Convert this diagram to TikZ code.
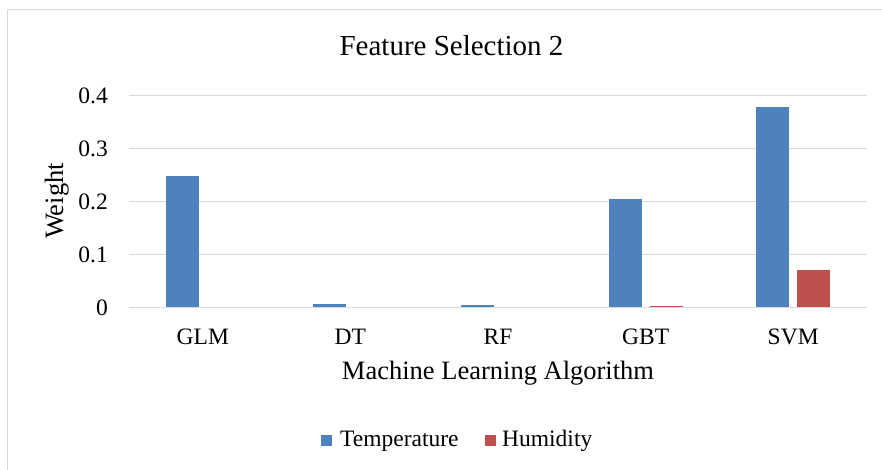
\documentclass[tikz,border=0pt]{standalone}
\usepackage{fontspec}
\setmainfont{Liberation Serif}
\definecolor{tempblue}{HTML}{4F81BD}
\definecolor{humred}{HTML}{C0504D}
\definecolor{gridgray}{HTML}{D9D9D9}
\tikzset{
  ticklabel/.style={inner sep=0pt,font=\fontsize{23.5}{28}\selectfont},
  axistitle/.style={inner sep=0pt,font=\fontsize{26.5}{32}\selectfont},
  charttitle/.style={inner sep=0pt,font=\fontsize{29}{34}\selectfont},
  gridline/.style={gridgray,line width=1.2pt},
}
\begin{document}
\begin{tikzpicture}[x=1pt,y=-1pt]
  \useasboundingbox (0,0) rectangle (882,470);
  % frame
  \draw[gridgray,line width=1pt] (7.5,470) -- (7.5,10) -- (882,10);
  \node[charttitle,anchor=base] (title) at (451.5,56) {Feature Selection 2};
  % gridlines and weight labels
  \foreach \v/\n in {0/0,0.1/1,0.2/2,0.3/3,0.4/4} {
    \draw[gridline] (129,307.5-\v*530) -- (867,307.5-\v*530);
    \node[ticklabel,anchor=east] (w\n) at (108,307.5-\v*530) {\v};
  }
  % temperature bars and algorithm labels
  \foreach \i/\alg/\t in {1/GLM/0.248,2/DT/0.007,3/RF/0.005,4/GBT/0.205,5/SVM/0.378} {
    \pgfmathsetmacro\cx{129+(\i-0.5)*147.6}
    \fill[tempblue] (\cx-37,307) rectangle (\cx-4,307.5-\t*530);
    \node[ticklabel,anchor=base] (alg\i) at (\cx,344) {\alg};
  }
  % humidity bars
  \foreach \i/\h in {4/0.003,5/0.071} {
    \pgfmathsetmacro\cx{129+(\i-0.5)*147.6}
    \fill[humred] (\cx+4,307) rectangle (\cx+37,307.5-\h*530);
  }
  \node[axistitle,anchor=base] (xtitle) at (498,379) {Machine Learning Algorithm};
  \node[axistitle,anchor=base,rotate=90] (ytitle) at (63,201) {Weight};
  % legend
  \fill[tempblue] (321,435) rectangle (332,446);
  \node[ticklabel,anchor=base west] (legtemp) at (340,446.5) {Temperature};
  \fill[humred] (485,435) rectangle (496,446);
  \node[ticklabel,anchor=base west] (leghum) at (502,446.5) {Humidity};
\end{tikzpicture}
\end{document}
